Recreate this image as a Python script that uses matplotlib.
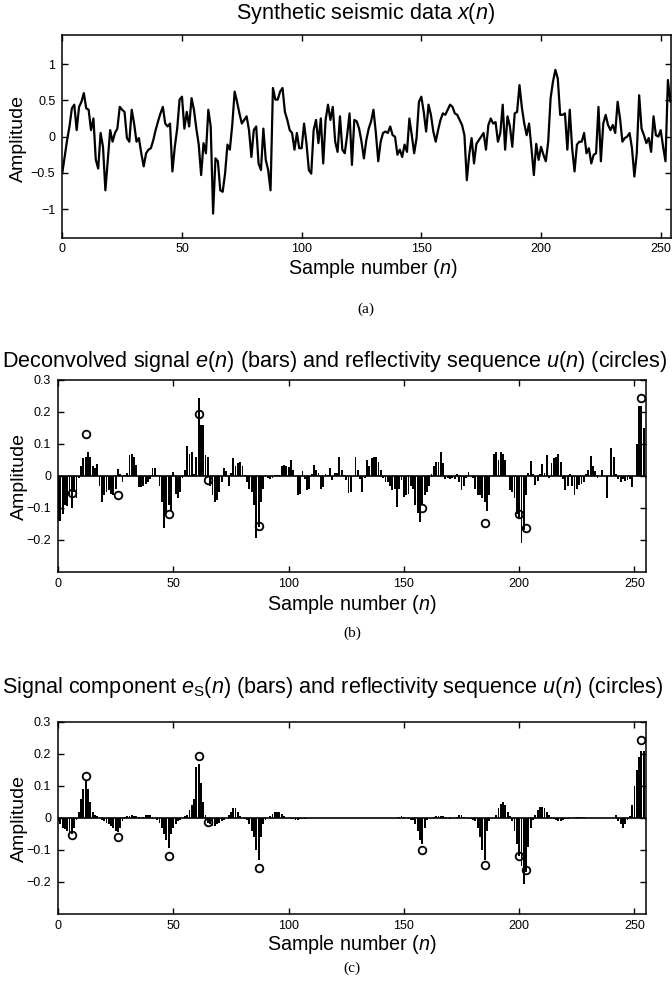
import numpy as np
import matplotlib
matplotlib.use("Agg")
import matplotlib.pyplot as plt

plt.rcParams['font.family'] = ['Liberation Sans', 'DejaVu Sans']
plt.rcParams['mathtext.fontset'] = 'custom'
plt.rcParams['mathtext.rm'] = 'Liberation Sans'
plt.rcParams['mathtext.it'] = 'Liberation Sans:italic'

# ---------------- data ----------------
# (a) synthetic seismic trace x(n), n = 0..255
x_n = [
    -0.50, -0.28, -0.05, 0.14, 0.39, 0.44, 0.09, 0.41, 0.48, 0.60,
    0.39, 0.37, 0.09, 0.25, -0.32, -0.44, 0.05, -0.14, -0.74, -0.32,
    0.09, -0.07, 0.05, 0.11, 0.41, 0.37, 0.34, -0.02, -0.07, 0.37,
    0.18, -0.07, -0.02, -0.23, -0.41, -0.23, -0.18, -0.16, -0.05, 0.09,
    0.21, 0.32, 0.41, 0.18, 0.14, 0.18, -0.48, -0.14, 0.11, 0.51,
    0.55, 0.11, 0.34, 0.14, 0.53, 0.37, 0.11, -0.11, -0.53, -0.09,
    -0.23, 0.37, 0.14, -1.06, -0.30, -0.34, -0.74, -0.76, -0.51, -0.11,
    -0.18, 0.16, 0.62, 0.48, 0.32, 0.18, 0.23, 0.28, 0.09, -0.28,
    0.09, 0.14, -0.37, -0.46, 0.11, -0.32, -0.46, -0.74, 0.67, 0.51,
    0.51, 0.62, 0.67, 0.34, 0.23, 0.09, 0.05, -0.18, 0.05, -0.16,
    -0.16, 0.18, -0.09, -0.46, -0.51, 0.09, 0.23, -0.09, 0.25, -0.37,
    0.23, 0.44, 0.23, 0.41, -0.07, -0.21, 0.28, -0.18, -0.23, 0.02,
    0.32, -0.39, 0.23, 0.21, 0.11, -0.07, -0.30, -0.05, 0.11, 0.21,
    0.37, 0.05, -0.34, -0.07, 0.05, 0.07, 0.05, 0.14, 0.02, 0.00,
    -0.25, -0.18, -0.28, -0.11, -0.21, 0.25, 0.02, -0.23, -0.02, 0.48,
    0.55, 0.34, 0.07, 0.44, 0.30, 0.07, -0.07, 0.09, 0.23, 0.32,
    0.30, 0.37, 0.44, 0.41, 0.32, 0.30, 0.23, 0.16, 0.02, -0.60,
    -0.25, -0.02, -0.37, -0.10, -0.05, 0.00, 0.05, -0.18, 0.16, 0.25,
    0.18, 0.20, -0.07, 0.05, 0.44, -0.18, 0.28, 0.14, -0.14, 0.32,
    0.34, 0.71, 0.40, 0.18, 0.02, 0.18, -0.16, -0.53, -0.10, -0.32,
    -0.14, -0.25, -0.34, -0.07, 0.53, 0.76, 0.92, 0.80, 0.30, 0.30,
    0.32, -0.18, 0.37, -0.16, -0.48, -0.11, -0.07, -0.07, 0.05, -0.23,
    -0.16, -0.37, -0.25, -0.23, 0.41, -0.34, 0.18, 0.30, 0.16, 0.09,
    0.16, 0.05, 0.48, 0.25, -0.07, -0.02, 0.00, 0.05, -0.16, -0.55,
    -0.23, 0.57, 0.11, 0.02, -0.09, -0.02, -0.21, 0.28, 0.02, 0.00,
    0.09, -0.14, -0.34, 0.78, 0.48, 0.64,
]

# (b) deconvolved signal e(n)
e_n = [
    -0.14, -0.14, -0.12, -0.09, -0.095, -0.06, -0.10, -0.05, -0.07, -0.005,
    0.03, 0.055, 0.06, 0.075, 0.06, 0.03, 0.025, 0.038, -0.03, -0.08,
    -0.06, -0.05, -0.045, -0.055, -0.06, -0.04, 0.023, 0.005, -0.018, 0.003,
    0.01, 0.065, 0.07, 0.06, 0.035, -0.035, -0.033, -0.03, -0.025, -0.02,
    -0.01, 0.025, 0.024, 0.002, -0.03, -0.08, -0.163, -0.12, -0.09, -0.11,
    0.012, -0.055, -0.07, -0.05, -0.005, 0.02, 0.095, 0.07, 0.075, 0.005,
    0.06, 0.245, 0.16, 0.16, 0.065, 0.06, -0.03, -0.06, -0.08, -0.075,
    -0.05, -0.02, 0.025, 0.015, -0.03, 0.01, 0.055, 0.03, 0.04, 0.045,
    0.03, 0.002, -0.02, -0.04, -0.05, -0.09, -0.195, -0.16, -0.08, -0.04,
    0.002, -0.005, -0.01, -0.005, 0.003, 0.002, 0.002, 0.03, 0.033, 0.03,
    0.028, 0.05, 0.02, 0.0, -0.06, -0.055, 0.015, -0.01, -0.044, -0.04,
    0.005, 0.034, 0.02, 0.008, -0.04, -0.035, 0.005, 0.004, 0.026, -0.012,
    0.008, 0.01, 0.058, 0.019, 0.003, -0.012, -0.054, -0.05, 0.0, 0.06,
    0.02, -0.01, -0.049, -0.005, 0.05, 0.03, 0.055, 0.058, 0.058, 0.045,
    0.02, -0.005, -0.018, -0.02, -0.03, -0.044, -0.04, -0.096, -0.04, -0.012,
    -0.065, -0.06, -0.055, -0.03, -0.04, -0.09, -0.117, -0.143, -0.09, -0.06,
    -0.05, -0.03, 0.005, 0.03, 0.045, 0.045, 0.074, 0.04, -0.01, -0.005,
    -0.008, -0.005, -0.01, 0.005, -0.02, -0.044, -0.03, -0.005, 0.012, 0.0,
    -0.005, -0.04, -0.06, -0.06, -0.07, -0.08, -0.11, -0.06, 0.0, 0.07,
    0.074, 0.05, 0.074, 0.07, 0.05, 0.0, -0.044, -0.05, -0.07, -0.12,
    -0.13, -0.21, -0.17, -0.06, 0.01, 0.047, 0.005, -0.028, -0.015, 0.005,
    0.036, 0.01, 0.066, -0.005, 0.04, 0.055, 0.06, 0.07, 0.045, -0.01,
    -0.044, -0.03, 0.005, -0.03, -0.06, -0.04, -0.028, -0.025, -0.02, 0.005,
    0.02, 0.064, 0.03, 0.015, -0.007, 0.0, 0.018, 0.0, -0.07, 0.0,
    0.086, 0.06, 0.005, -0.01, -0.02, -0.01, -0.015, -0.012, -0.01, -0.033,
    0.0, 0.10, 0.22, 0.22, 0.15, 0.0,
]

# (c) signal component e_S(n)
es_n = [
    -0.01, -0.02, -0.03, -0.035, -0.04, -0.045, -0.05, -0.03, -0.005, 0.02,
    0.06, 0.09, 0.115, 0.09, 0.05, 0.02, 0.01, 0.005, 0.0, -0.005,
    -0.01, -0.015, -0.02, -0.025, -0.03, -0.04, -0.045, -0.03, -0.01, 0.002,
    0.005, 0.007, 0.008, 0.007, 0.005, 0.002, 0.0, 0.004, 0.008, 0.01,
    0.008, 0.003, 0.0, -0.005, -0.015, -0.03, -0.05, -0.07, -0.095, -0.05,
    -0.03, -0.02, -0.01, -0.005, 0.0, 0.005, 0.01, 0.025, 0.04, 0.06,
    0.16, 0.17, 0.11, 0.05, 0.01, -0.015, -0.02, -0.025, -0.025, -0.02,
    -0.015, -0.01, -0.005, 0.0, 0.01, 0.02, 0.03, 0.03, 0.02, 0.005,
    0.0, -0.002, -0.005, -0.02, -0.04, -0.06, -0.10, -0.13, -0.06, -0.02,
    -0.005, 0.0, 0.005, 0.012, 0.018, 0.02, 0.018, 0.012, 0.005, 0.0,
    0.0, -0.002, -0.004, -0.005, -0.005, -0.004, -0.003, -0.002, -0.001, 0.0,
    0.0, 0.0, 0.001, 0.001, 0.001, 0.0, 0.0, 0.0, 0.0, 0.0,
    0.0, 0.0, 0.0, 0.0, 0.0, 0.0, 0.0, 0.0, 0.0, 0.0,
    0.0, 0.0, 0.0, 0.0, 0.0, 0.0, 0.0, 0.0, 0.0, 0.0,
    0.0, 0.0, 0.0, 0.0, 0.0, 0.0, 0.0, 0.0, 0.004, 0.006,
    0.004, 0.0, -0.002, -0.005, -0.005, -0.02, -0.04, -0.07, -0.08, -0.03,
    -0.005, 0.0, 0.0, 0.003, 0.006, 0.006, 0.006, 0.005, 0.003, 0.0,
    -0.002, -0.001, 0.0, 0.004, 0.008, 0.008, 0.004, 0.0, -0.002, -0.004,
    -0.005, -0.01, -0.03, -0.06, -0.10, -0.13, -0.04, -0.01, 0.0, 0.0,
    0.01, 0.03, 0.045, 0.05, 0.04, 0.02, 0.005, -0.01, -0.04, -0.08,
    -0.12, -0.15, -0.205, -0.17, -0.09, -0.03, -0.005, 0.01, 0.025, 0.033,
    0.035, 0.03, 0.02, 0.01, 0.002, -0.004, -0.007, -0.008, -0.008, -0.006,
    -0.004, -0.002, 0.0, 0.001, 0.002, 0.003, 0.003, 0.003, 0.002, 0.001,
    0.0, 0.0, 0.0, 0.0, 0.0, 0.0, 0.0, 0.0, 0.0, 0.0,
    0.0, 0.0, 0.008, -0.01, -0.02, -0.03, -0.02, -0.005, 0.005, 0.04,
    0.10, 0.15, 0.19, 0.21, 0.21, 0.0,
]

# reflectivity sequence u(n): non-zero spikes only
u_idx = [6, 12, 26, 48, 61, 65, 87, 158, 185, 200, 203, 253]
u_val = [-0.052, 0.13, -0.058, -0.118, 0.193, -0.012, -0.157, -0.10,
         -0.147, -0.12, -0.163, 0.245]

x_ticks = [0, 50, 100, 150, 200, 250]
ya_ticks = [-1, -0.5, 0, 0.5, 1]
ya_labels = ['\u22121', '\u22120.5', '0', '0.5', '1']
yb_ticks = [-0.2, -0.1, 0, 0.1, 0.2, 0.3]
yb_labels = ['\u22120.2', '\u22120.1', '0', '0.1', '0.2', '0.3']

# ---------------- figure ----------------
W, H = 672, 994
fig = plt.figure(figsize=(W / 100, H / 100), dpi=100)


def px_axes(l, t, r, b):
    return fig.add_axes([l / W, 1 - b / H, (r - l) / W, (b - t) / H])


def ftext(x, y, s, ha='center', **kw):
    fig.text(x / W, 1 - y / H, s, ha=ha, va='center', **kw)


def style(ax):
    ax.tick_params(direction='in', top=True, right=True, length=4,
                   width=1.0, labelsize=9)
    ax.tick_params(axis='x', pad=4)
    ax.tick_params(axis='y', pad=5)
    for sp in ax.spines.values():
        sp.set_linewidth(1.1)
    ax.set_xticks(x_ticks)


n = np.arange(len(x_n))

# (a)
axa = px_axes(62.3, 35, 671, 237.5)
axa.plot(n, x_n, color='black', lw=1.6)
axa.set_xlim(0, 254.3)
axa.set_ylim(-1.39, 1.4)
axa.set_yticks(ya_ticks)
axa.set_yticklabels(ya_labels)
style(axa)

# (b)
axb = px_axes(58, 380, 646, 572)
axb.bar(np.arange(len(e_n)), e_n, width=0.8, color='black', linewidth=0)
axb.axhline(0, color='black', lw=1.2)
axb.plot(u_idx, u_val, 'o', mfc='none', mec='black', ms=5.5, mew=1.3)
axb.set_xlim(0, 255)
axb.set_ylim(-0.3, 0.3)
axb.set_yticks(yb_ticks)
axb.set_yticklabels(yb_labels)
style(axb)

# (c)
axc = px_axes(58, 722, 646, 914)
axc.bar(np.arange(len(es_n)), es_n, width=0.8, color='black', linewidth=0)
axc.axhline(0, color='black', lw=1.2)
axc.plot(u_idx, u_val, 'o', mfc='none', mec='black', ms=5.5, mew=1.3)
axc.set_xlim(0, 255)
axc.set_ylim(-0.3, 0.3)
axc.set_yticks(yb_ticks)
axc.set_yticklabels(yb_labels)
style(axc)

fs_t = 15.6
fs_x = 14.2
fs_y = 14
# titles
ftext(366, 13, r'Synthetic seismic data $x$($n$)', fontsize=fs_t)
ftext(2, 361, r'Deconvolved signal $e$($n$) (bars) and reflectivity sequence $u$($n$) (circles)',
      ha='left', fontsize=fs_t)
ftext(2, 688, r'Signal component $e_{\mathrm{S}}$($n$) (bars) and reflectivity sequence $u$($n$) (circles)',
      ha='left', fontsize=fs_t)

# x labels
ftext(373, 269, r'Sample number ($n$)', fontsize=fs_x)
ftext(352, 605, r'Sample number ($n$)', fontsize=fs_x)
ftext(352, 945, r'Sample number ($n$)', fontsize=fs_x)

# y labels
ftext(18, 138, 'Amplitude', fontsize=fs_y, rotation=90)
ftext(19, 476, 'Amplitude', fontsize=fs_y, rotation=90)
ftext(19, 818, 'Amplitude', fontsize=fs_y, rotation=90)

# panel letters
ftext(366, 309, '(a)', fontsize=11, family='Liberation Serif')
ftext(352, 633, '(b)', fontsize=11, family='Liberation Serif')
ftext(352, 968, '(c)', fontsize=11, family='Liberation Serif')

fig.savefig('out.png', dpi=100)
